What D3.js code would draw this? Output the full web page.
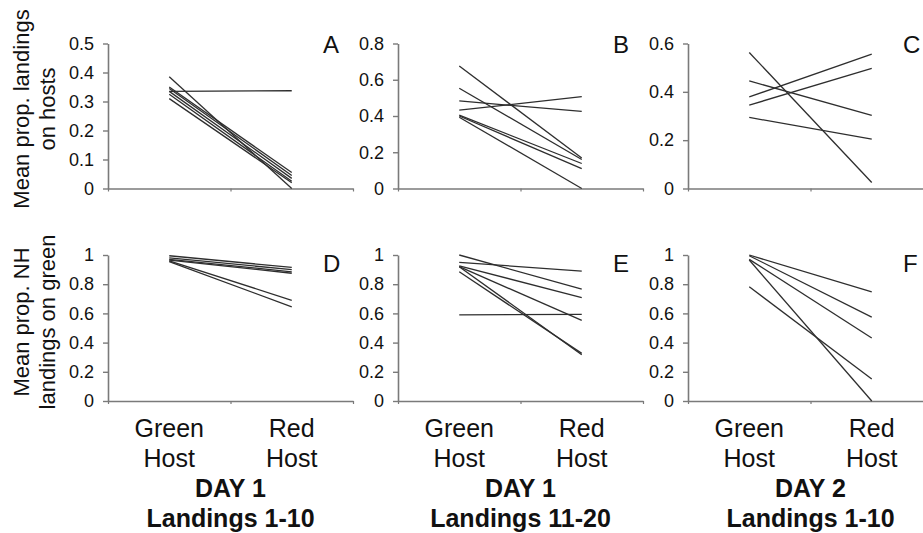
<!DOCTYPE html>
<html><head><meta charset="utf-8">
<script src="https://cdn.jsdelivr.net/npm/d3@7"></script>
<style>
html,body{margin:0;padding:0;background:#fff;}
text{font-family:"Liberation Sans",Arial,sans-serif;}
</style></head>
<body><svg id="chart" width="923" height="533"></svg>
<script>
// ---- data ----
const categories = ["Green Host", "Red Host"];
const catLine1 = ["Green", "Red"];
const catLine2 = ["Host", "Host"];
const panelLetters = ["A", "B", "C", "D", "E", "F"];
const dayLabels = ["DAY 1", "DAY 1", "DAY 2"];
const landingLabels = ["Landings 1-10", "Landings 11-20", "Landings 1-10"];
const yTitleTop = ["Mean prop. landings", "on hosts"];
const yTitleBottom = ["Mean prop. NH", "landings on green"];

const A_green = [0.385, 0.335, 0.350, 0.345, 0.335, 0.325, 0.310];
const A_red   = [0.000, 0.337, 0.055, 0.045, 0.035, 0.025, 0.020];
const B_green = [0.676, 0.553, 0.483, 0.432, 0.405, 0.400, 0.393];
const B_red   = [0.168, 0.160, 0.425, 0.507, 0.138, 0.110, 0.000];
const C_green = [0.563, 0.445, 0.379, 0.345, 0.294];
const C_red   = [0.025, 0.303, 0.556, 0.497, 0.204];
const D_green = [0.995, 0.980, 0.970, 0.965, 0.960, 0.955];
const D_red   = [0.915, 0.900, 0.885, 0.875, 0.690, 0.645];
const E_green = [1.000, 0.950, 0.926, 0.920, 0.920, 0.885, 0.590];
const E_red   = [0.766, 0.890, 0.708, 0.552, 0.317, 0.326, 0.593];
const F_green = [1.000, 0.995, 0.970, 0.966, 0.782];
const F_red   = [0.747, 0.575, 0.432, 0.000, 0.150];

const ticksA = [0, 0.1, 0.2, 0.3, 0.4, 0.5];
const ticksB = [0, 0.2, 0.4, 0.6, 0.8];
const ticksC = [0, 0.2, 0.4, 0.6];
const ticksDEF = [0, 0.2, 0.4, 0.6, 0.8, 1];

// ---- layout ----
const svg = d3.select("#chart");
const panelLeft = [108, 398, 688];
const panelW = 245;
const rows = [{top: 43.5, bottom: 188.5}, {top: 255, bottom: 401}];
const axisColor = "#7a7a7a";
const lineColor = "#2e2e2e";

const panels = [
  {g: A_green, r: A_red, max: 0.5, ticks: ticksA, row: 0, col: 0},
  {g: B_green, r: B_red, max: 0.8, ticks: ticksB, row: 0, col: 1},
  {g: C_green, r: C_red, max: 0.6, ticks: ticksC, row: 0, col: 2},
  {g: D_green, r: D_red, max: 1.0, ticks: ticksDEF, row: 1, col: 0},
  {g: E_green, r: E_red, max: 1.0, ticks: ticksDEF, row: 1, col: 1},
  {g: F_green, r: F_red, max: 1.0, ticks: ticksDEF, row: 1, col: 2}
];

const fmt = d => d === 0 ? "0" : d3.format("~g")(d);

panels.forEach((p, i) => {
  const left = panelLeft[p.col];
  const {top, bottom} = rows[p.row];
  const x = d3.scalePoint().domain(categories).range([left, left + panelW]).padding(0.5);
  const xb = d3.scaleLinear().domain([0, 2]).range([left, left + panelW]);
  const y = d3.scaleLinear().domain([0, p.max]).range([bottom, top]);
  const g = svg.append("g");

  // y axis
  const ya = g.append("g").attr("transform", `translate(${left},0)`)
    .call(d3.axisLeft(y).tickValues(p.ticks).tickFormat(fmt).tickSize(5).tickSizeOuter(0).tickPadding(9));
  ya.select(".domain").attr("stroke", axisColor).attr("stroke-width", 1.6);
  ya.selectAll(".tick line").attr("stroke", axisColor).attr("stroke-width", 1.4);
  ya.selectAll(".tick text").attr("font-size", 18).attr("fill", "#111")
    .style("font-family", "'Liberation Sans', Arial, sans-serif");

  // x axis
  const xa = g.append("g").attr("transform", `translate(0,${bottom})`)
    .call(d3.axisBottom(xb).tickValues([0, 1, 2]).tickFormat("").tickSize(3).tickSizeOuter(0));
  xa.select(".domain").attr("stroke", axisColor).attr("stroke-width", 1.6);
  xa.selectAll(".tick line").attr("stroke", axisColor).attr("stroke-width", 1.2);

  // lines
  const data = p.g.map((v, k) => [v, p.r[k]]);
  g.selectAll("line.d").data(data).join("line")
    .attr("x1", x(categories[0])).attr("x2", x(categories[1]))
    .attr("y1", d => y(d[0])).attr("y2", d => y(d[1]))
    .attr("stroke", lineColor).attr("stroke-width", 1.3);

  // panel letter
  g.append("text").attr("x", left + 215).attr("y", p.row === 0 ? 53 : 272)
    .attr("font-size", 24).attr("fill", "#111").text(panelLetters[i]);

  // category labels (bottom row only)
  if (p.row === 1) {
    categories.forEach((c, k) => {
      g.append("text").attr("x", x(c)).attr("y", 437).attr("text-anchor", "middle")
        .attr("font-size", 25).attr("fill", "#111").text(catLine1[k]);
      g.append("text").attr("x", x(c)).attr("y", 467).attr("text-anchor", "middle")
        .attr("font-size", 25).attr("fill", "#111").text(catLine2[k]);
    });
    const mid = left + panelW / 2;
    g.append("text").attr("x", mid).attr("y", 497).attr("text-anchor", "middle")
      .attr("font-size", 25).attr("font-weight", "bold").attr("fill", "#111").text(dayLabels[p.col]);
    g.append("text").attr("x", mid).attr("y", 527).attr("text-anchor", "middle")
      .attr("font-size", 25).attr("font-weight", "bold").attr("fill", "#111").text(landingLabels[p.col]);
  }
});

// y titles
function yTitle(lines, cy) {
  const xs = [29, 55];
  lines.forEach((t, k) => {
    svg.append("text").attr("transform", `translate(${xs[k]},${cy}) rotate(-90)`)
      .attr("text-anchor", "middle").attr("font-size", 22).attr("fill", "#111").text(t);
  });
}
yTitle(yTitleTop, 109);
yTitle(yTitleBottom, 322);
</script></body></html>
